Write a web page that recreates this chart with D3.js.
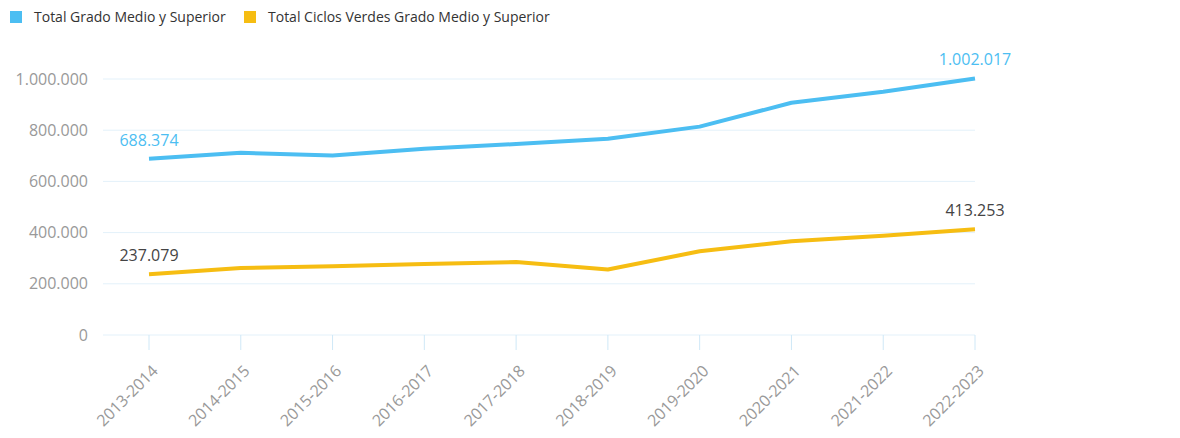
<!DOCTYPE html>
<html>
<head>
<meta charset="utf-8">
<script src="https://cdn.jsdelivr.net/npm/d3@7"></script>
<style>
  body { margin: 0; background: #fff; }
  svg text { font-family: "Open Sans", "Noto Sans", sans-serif; }
</style>
</head>
<body>
<div id="chart"></div>
<script>
const width = 1180;
const height = 438;

// Datos
const cursos = ["2013-2014", "2014-2015", "2015-2016", "2016-2017", "2017-2018",
                "2018-2019", "2019-2020", "2020-2021", "2021-2022", "2022-2023"];
const totalGrado = [688374, 712000, 701000, 728000, 746000, 767000, 814000, 907000, 950000, 1002017];
const totalVerdes = [237079, 262000, 269000, 277000, 285000, 256000, 327000, 366000, 388000, 413253];
const yTicks = [0, 200000, 400000, 600000, 800000, 1000000];
const series = [
    { name: "Total Grado Medio y Superior", values: totalGrado, color: "#4cbef2", labelColor: "#4cbef2" },
    { name: "Total Ciclos Verdes Grado Medio y Superior", values: totalVerdes, color: "#f6bd12", labelColor: "#444" }
];

const es = d3.formatLocale({ decimal: ",", thousands: ".", grouping: [3], currency: ["", "€"] });
const fmt = es.format(",d");

const svg = d3.select("#chart")
    .append("svg")
    .attr("width", width)
    .attr("height", height);

// Escalas
const x = d3.scalePoint().domain(cursos).range([149, 975]);
const y = d3.scaleLinear().domain([0, 1000000]).range([335, 79]);
const gridLeft = 103;

// Rejilla horizontal
svg.append("g")
    .selectAll("line")
    .data(yTicks)
    .join("line")
    .attr("x1", gridLeft)
    .attr("x2", x.range()[1])
    .attr("y1", d => y(d))
    .attr("y2", d => y(d))
    .attr("stroke", "#e3f1fa")
    .attr("stroke-width", 1);

// Etiquetas eje Y
svg.append("g")
    .selectAll("text")
    .data(yTicks)
    .join("text")
    .attr("x", 88)
    .attr("y", d => y(d))
    .attr("dy", "0.35em")
    .attr("text-anchor", "end")
    .attr("fill", "#999")
    .attr("font-size", 16)
    .text(d => fmt(d));

// Eje X: marcas y etiquetas
const xAxis = svg.append("g");
xAxis.selectAll("line")
    .data(cursos)
    .join("line")
    .attr("x1", d => x(d))
    .attr("x2", d => x(d))
    .attr("y1", y(0))
    .attr("y2", y(0) + 15)
    .attr("stroke", "#cfe8f7");

xAxis.selectAll("text")
    .data(cursos)
    .join("text")
    .attr("transform", d => `translate(${x(d) + 6},${y(0) + 33}) rotate(-45)`)
    .attr("text-anchor", "end")
    .attr("dy", "0.35em")
    .attr("fill", "#999")
    .attr("font-size", 16)
    .text(d => d);

// Líneas
const line = d3.line()
    .x((d, i) => x(cursos[i]))
    .y(d => y(d));

svg.append("g")
    .selectAll("path")
    .data(series)
    .join("path")
    .attr("d", d => line(d.values))
    .attr("fill", "none")
    .attr("stroke", d => d.color)
    .attr("stroke-width", 4)
    .attr("stroke-linejoin", "round");

// Etiquetas de primer y último valor
series.forEach(s => {
    const idx = [0, s.values.length - 1];
    svg.append("g")
        .selectAll("text")
        .data(idx)
        .join("text")
        .attr("x", i => x(cursos[i]))
        .attr("y", i => y(s.values[i]) - 13)
        .attr("text-anchor", "middle")
        .attr("fill", s.labelColor)
        .attr("font-size", 16)
        .text(i => fmt(s.values[i]));
});

// Leyenda
const legend = svg.append("g").attr("transform", "translate(10,11)");
const legendX = [0, 234];
series.forEach((s, i) => {
    const g = legend.append("g").attr("transform", `translate(${legendX[i]},0)`);
    g.append("rect")
        .attr("width", 12)
        .attr("height", 12)
        .attr("fill", s.color);
    g.append("text")
        .attr("x", 24)
        .attr("y", 6)
        .attr("dy", "0.35em")
        .attr("fill", "#333")
        .attr("font-size", 14)
        .text(s.name);
});
</script>
</body>
</html>
